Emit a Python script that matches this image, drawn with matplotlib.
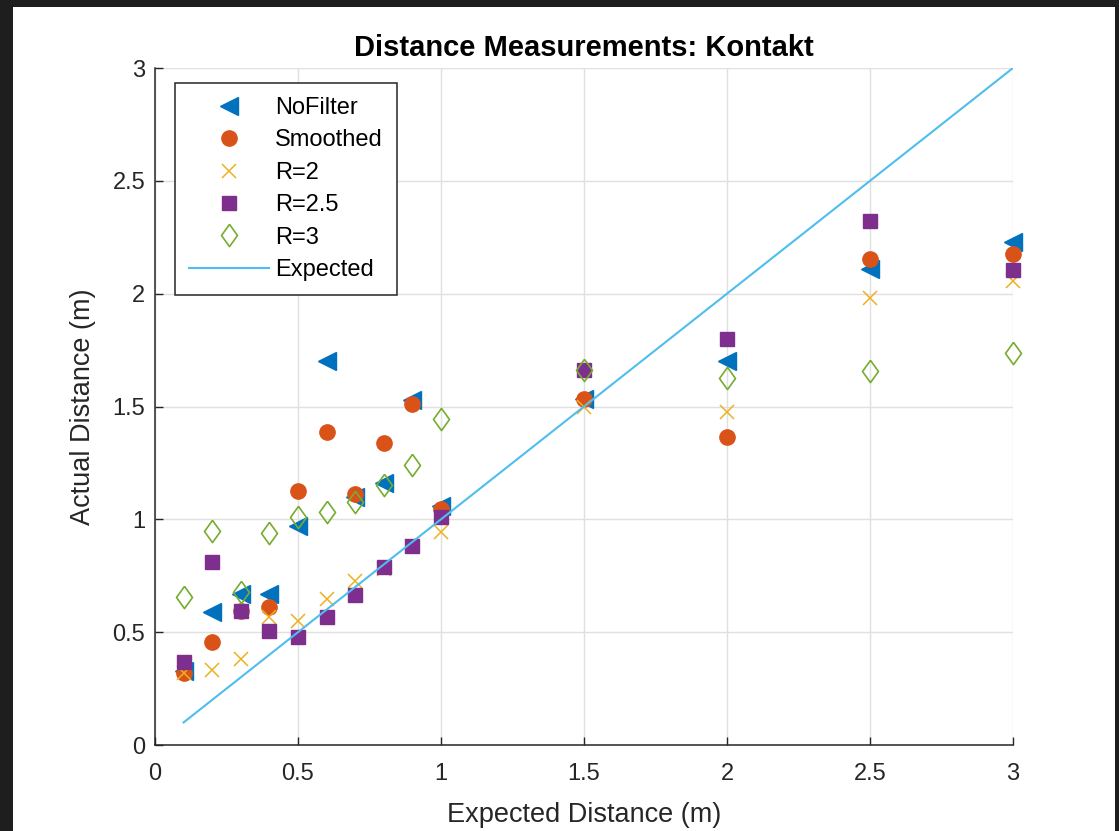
import matplotlib.pyplot as plt
from matplotlib.patches import Rectangle

expected_x = [0.1, 0.2, 0.3, 0.4, 0.5, 0.6, 0.7, 0.8, 0.9, 1.0, 1.5, 2.0, 2.5, 3.0]
no_filter = [0.33, 0.59, 0.67, 0.67, 0.97, 1.70, 1.10, 1.16, 1.53, 1.06, 1.535, 1.70, 2.11, 2.23]
smoothed = [0.32, 0.455, 0.594, 0.613, 1.127, 1.388, 1.112, 1.337, 1.51, 1.044, 1.533, 1.363, 2.152, 2.175]
r_2 = [0.32, 0.332, 0.381, 0.569, 0.551, 0.648, 0.727, 0.78, 0.88, 0.945, 1.499, 1.474, 1.982, 2.057]
r_2_5 = [0.369, 0.812, 0.594, 0.507, 0.48, 0.568, 0.665, 0.787, 0.883, 1.009, 1.661, 1.799, 2.323, 2.105]
r_3 = [0.657, 0.95, 0.679, 0.94, 1.012, 1.031, 1.078, 1.15, 1.24, 1.443, 1.661, 1.625, 1.658, 1.738]
ticks = [0, 0.5, 1, 1.5, 2, 2.5, 3]
tick_labels = ["0", "0.5", "1", "1.5", "2", "2.5", "3"]

plt.rcParams.update({
    "font.family": ["Liberation Sans", "DejaVu Sans"],
    "font.size": 17,
})

TEXT = "#262626"
diamond = [(0, 1), (0.72, 0), (0, -1), (-0.72, 0), (0, 1)]

fig = plt.figure(figsize=(11.19, 8.31), dpi=100, facecolor="#1e1e1e")
fig.patches.append(Rectangle((13 / 1119, 0), (1115 - 13) / 1119, (831 - 7) / 831,
                             transform=fig.transFigure, facecolor="white",
                             edgecolor="none", zorder=-1))
ax = fig.add_axes([155 / 1119, 86 / 831, 858 / 1119, 677 / 831])

ax.plot(expected_x, no_filter, ls="none", marker="<", ms=12.5, color="#0072BD",
        label="NoFilter", clip_on=False)
ax.plot(expected_x, smoothed, ls="none", marker="o", ms=11, color="#D95319",
        label="Smoothed", clip_on=False)
ax.plot(expected_x, r_2, ls="none", marker="x", ms=10, mew=1.1, color="#EDB120",
        label="R=2", clip_on=False)
ax.plot(expected_x, r_2_5, ls="none", marker="s", ms=9.5, color="#7E2F8E",
        label="R=2.5", clip_on=False)
ax.plot(expected_x, r_3, ls="none", marker=diamond, ms=16, mew=1.2, mfc="none",
        color="#77AC30", label="R=3", clip_on=False)
ax.plot(expected_x, expected_x, color="#4DBEEE", lw=1.5, label="Expected")

ax.set_xlim(0, 3)
ax.set_ylim(0, 3)
ax.set_xticks(ticks, tick_labels)
ax.set_yticks(ticks, tick_labels)
ax.grid(True, color="#e0e0e0", lw=1)
ax.set_axisbelow(True)
for side in ("top", "right"):
    ax.spines[side].set_visible(False)
for side in ("left", "bottom"):
    ax.spines[side].set_color(TEXT)
    ax.spines[side].set_linewidth(1.1)
ax.tick_params(axis="both", direction="in", length=6, width=1, colors=TEXT, labelsize=17)
ax.tick_params(axis="x", pad=13)
ax.tick_params(axis="y", pad=7)

ax.set_title("Distance Measurements: Kontakt", fontsize=21, fontweight="bold", pad=9)
ax.set_xlabel("Expected Distance (m)", fontsize=19.5, color=TEXT, labelpad=12)
ax.set_ylabel("Actual Distance (m)", fontsize=19.5, color=TEXT, labelpad=12)

leg = ax.legend(loc="upper left", bbox_to_anchor=(0.0233, 0.978), borderaxespad=0,
                fontsize=17, fancybox=False, framealpha=1, edgecolor="#262626",
                handlelength=3.4, handletextpad=0.25, labelspacing=0.44, borderpad=0.6)
leg.get_frame().set_linewidth(1.1)

fig.savefig("out.png", dpi=100, facecolor=fig.get_facecolor())
